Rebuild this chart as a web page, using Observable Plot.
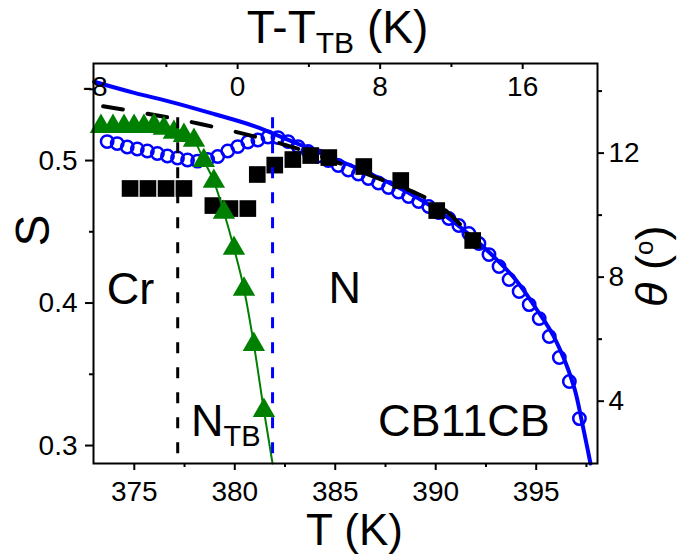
<!DOCTYPE html>
<html>
<head>
<meta charset="utf-8">
<script src="https://cdn.jsdelivr.net/npm/d3@7"></script>
<script src="https://cdn.jsdelivr.net/npm/@observablehq/plot@0.6"></script>
<style>
  html, body { margin: 0; padding: 0; background: #fff; }
  #chart svg { display: block; }
</style>
</head>
<body>
<div id="chart"></div>
<script>
// Orientational order parameter S from birefringence (open circles)
const circleT = [373.65, 374.15, 374.65, 375.15, 375.65, 376.15, 376.65, 377.15, 377.65, 378.15,
  378.65, 379.15, 379.65, 380.15, 380.65, 381.15, 381.65, 382.15, 382.65, 383.15,
  383.65, 384.15, 384.65, 385.15, 385.65, 386.15, 386.65, 387.15, 387.65, 388.15,
  388.65, 389.15, 389.65, 390.15, 390.65, 391.15, 391.65, 392.15, 392.65, 393.15,
  393.65, 394.15, 394.65, 395.15, 395.65, 396.15, 396.65, 397.15];
const circleS = [0.5133, 0.5119, 0.5095, 0.5081, 0.5067, 0.5049, 0.5032, 0.5018, 0.5004, 0.4996,
  0.5007, 0.5028, 0.5067, 0.5098, 0.5130, 0.5144, 0.5165, 0.5161, 0.5133, 0.5098,
  0.5063, 0.5032, 0.5000, 0.4965, 0.4933, 0.4905, 0.4874, 0.4842, 0.4811, 0.4779,
  0.4747, 0.4712, 0.4677, 0.4635, 0.4593, 0.4544, 0.4488, 0.4418, 0.4340, 0.4256,
  0.4165, 0.4081, 0.3989, 0.3891, 0.3765, 0.3618, 0.3449, 0.3189];

// S from X-ray diffraction (filled squares)
const squareT = [374.79, 375.68, 376.58, 377.47, 378.91, 379.76, 380.65, 381.12,
  381.99, 382.89, 383.78, 384.68, 386.42, 388.26, 390.05, 391.84];
const squareS = [0.4804, 0.4804, 0.4804, 0.4804, 0.4684, 0.4663, 0.4663, 0.4902,
  0.4968, 0.5007, 0.5035, 0.5021, 0.4958, 0.4860, 0.4649, 0.4439];

// Heliconical tilt angle theta in degrees (triangles, right axis)
const triangleT = [373.34, 373.94, 374.49, 374.99, 375.48, 375.98, 376.47, 376.97, 377.47,
  377.97, 378.46, 378.96, 379.46, 379.96, 380.46, 380.95, 381.45];
const triangleTheta = [12.86, 12.86, 12.86, 12.86, 12.86, 12.89, 12.80, 12.67, 12.57,
  12.41, 11.76, 11.09, 10.09, 8.93, 7.61, 5.83, 3.70];

// Fitted curves
const fitST = [373.0, 375.0, 377.0, 379.0, 381.0, 383.0, 385.0, 387.0, 389.0, 390.5,
  392.0, 393.0, 394.0, 395.0, 396.0, 396.6, 397.0, 397.3, 397.55, 397.7];
const fitS = [0.5553, 0.5475, 0.5405, 0.5325, 0.5240, 0.5125, 0.5010, 0.4890, 0.4745, 0.4610,
  0.4440, 0.4310, 0.4160, 0.3960, 0.3730, 0.3530, 0.3350, 0.3150, 0.2980, 0.2874];
const fitDashT = [373.45, 378.41, 382.79, 385.12, 387.01, 388.85, 390.24, 391.13, 391.83];
const fitDashS = [0.5381, 0.5253, 0.5098, 0.4986, 0.4881, 0.4782, 0.4677, 0.4565, 0.4453];
const fitThetaT = [377.47, 377.97, 378.46, 378.96, 379.46, 379.96, 380.46, 380.95, 381.45, 381.88];
const fitTheta = [12.57, 12.41, 11.76, 11.09, 10.09, 8.93, 7.61, 5.83, 3.70, 1.99];

// Phase transition temperatures: Cr–NTB (black) and NTB–N (blue)
const transitionT = [377.16, 381.88];
const transitionColor = ["black", "#0000ff"];
const transitionTopS = 0.530;

// Axis ticks
const tTicks = [375, 380, 385, 390, 395];
const tMinor = [377.5, 382.5, 387.5, 392.5, 397.5];
const sTicks = [0.3, 0.4, 0.5];
const sMinor = [0.35, 0.45, 0.55];
const thetaTicks = [4, 8, 12];
const thetaMinor = [6, 10, 14];
const relTicks = [-8, 0, 8, 16];
const relMinor = [-4, 4, 12];

// Scale extents; theta and T-T_TB are secondary axes laid over S and T
const tDomain = [372.97, 398.05];
const sDomain = [0.2874, 0.5681];
const thetaDomain = [1.99, 14.89];
const relDomain = [-8.09, 20.2];

const lin = (a, b) => v => b[0] + (v - a[0]) / (a[1] - a[0]) * (b[1] - b[0]);
const thetaToS = lin(thetaDomain, sDomain);
const sToTheta = lin(sDomain, thetaDomain);
const relToT = lin(relDomain, tDomain);

const circles = circleT.map((T, i) => ({T, S: circleS[i]}));
const squares = squareT.map((T, i) => ({T, S: squareS[i]}));
const triangles = triangleT.map((T, i) => ({T, theta: triangleTheta[i]}));
const fitLine = fitST.map((T, i) => ({T, S: fitS[i]}));
const fitDash = fitDashT.map((T, i) => ({T, S: fitDashS[i]}));
const fitThetaLine = fitThetaT.map((T, i) => ({T, theta: fitTheta[i]}));
const transitions = transitionT.map((T, i) => ({T, color: transitionColor[i]}));

const BLUE = "#0000ff";
const GREEN = "#008000";
const big = 45;

// In-plot phase labels (placed in data units)
const centeredNotes = [
  {text: "Cr", T: 374.81, S: 0.4095},
  {text: "N", T: 385.47, S: 0.4102},
  {text: "CB11CB", T: 391.40, S: 0.3165}
];
const startNotes = [
  {text: "NTB", T: 377.82, S: 0.3168}
];

const chart = Plot.plot({
  width: 679,
  height: 556,
  marginLeft: 93,
  marginRight: 82,
  marginTop: 63,
  marginBottom: 93,
  x: {domain: tDomain},
  y: {domain: sDomain},
  style: {fontFamily: "'Liberation Sans', Arial, sans-serif", fontSize: "28px", color: "black", background: "white", overflow: "visible"},
  marks: [
    // fitted S curve and birefringence points
    Plot.line(fitLine, {x: "T", y: "S", stroke: BLUE, strokeWidth: 4, curve: "monotone-x"}),
    Plot.dot(circles, {x: "T", y: "S", r: 6.2, stroke: BLUE, strokeWidth: 2.5, fill: "none"}),
    // X-ray fit and points
    Plot.line(fitDash, {x: "T", y: "S", stroke: "black", strokeWidth: 4, strokeDasharray: "20,25", curve: "monotone-x"}),
    Plot.dot(squares, {x: "T", y: "S", symbol: "square", r: 9.4, fill: "black"}),
    // tilt angle
    Plot.line(fitThetaLine, {x: "T", y: d => thetaToS(d.theta), stroke: GREEN, strokeWidth: 2, curve: "monotone-x"}),
    Plot.dot(triangles, {x: "T", y: d => thetaToS(d.theta), symbol: "triangle", r: 8.3, fill: GREEN}),
    // transition markers
    Plot.ruleX(transitions, {x: "T", y1: transitionTopS, y2: sDomain[0], stroke: "color", strokeWidth: 3, strokeDasharray: "11,14"}),

    // frame and axes
    Plot.frame({strokeWidth: 2}),
    Plot.axisX(tTicks, {anchor: "bottom", tickSize: 7, tickPadding: 11, strokeWidth: 2, label: null}),
    Plot.axisX(tMinor, {anchor: "bottom", tickSize: 4, strokeWidth: 2, tickFormat: () => "", label: null}),
    Plot.axisY(sTicks, {anchor: "left", tickSize: 8, tickPadding: 8, strokeWidth: 2, tickFormat: d3.format(".1f"), label: null}),
    Plot.axisY(sMinor, {anchor: "left", tickSize: 4, strokeWidth: 2, tickFormat: () => "", label: null}),
    Plot.axisY(thetaTicks.map(thetaToS), {anchor: "right", tickSize: 6, tickPadding: 5, strokeWidth: 2, tickFormat: d => String(Math.round(sToTheta(d))), label: null}),
    Plot.axisY(thetaMinor.map(thetaToS), {anchor: "right", tickSize: 4, strokeWidth: 2, tickFormat: () => "", label: null}),
    // top axis: inward ticks, labels inside the frame
    Plot.ruleX(relTicks.slice(1), {x: relToT, insetBottom: 394, strokeWidth: 2}),
    Plot.ruleX(relMinor, {x: relToT, insetBottom: 396, strokeWidth: 2}),
    Plot.text(relTicks, {x: relToT, text: d => String(d), frameAnchor: "top", lineAnchor: "top", dy: 13}),

    // axis titles
    Plot.text(["T (K)"], {frameAnchor: "bottom", text: d => d, dx: 9, dy: 67, fontSize: 44, lineAnchor: "middle"}),
    Plot.text(["T-TTB (K)"], {frameAnchor: "top", text: d => d, dx: -8, dy: -35, fontSize: 46, lineAnchor: "middle"}),
    Plot.text(["S"], {frameAnchor: "left", text: d => d, rotate: -90, dx: -60, dy: -17, fontSize: 48, lineAnchor: "middle"}),
    Plot.text(["θ (o)"], {frameAnchor: "right", text: d => d, rotate: -90, dx: 55, dy: -38, fontSize: big, lineAnchor: "middle"}),

    // phase labels
    Plot.text(centeredNotes, {x: "T", y: "S", text: "text", textAnchor: "middle", fontSize: big, lineAnchor: "middle"}),
    Plot.text(startNotes, {x: "T", y: "S", text: "text", textAnchor: "start", fontSize: big, lineAnchor: "middle"})
  ]
});

// Subscripts, italics and the degree mark inside single text elements
function richText(svg, plain, parts) {
  const node = Array.from(svg.querySelectorAll("text")).find(t => t.textContent === plain);
  if (!node) return;
  node.textContent = "";
  let shift = 0;
  for (const p of parts) {
    const s = document.createElementNS("http://www.w3.org/2000/svg", "tspan");
    s.textContent = p.text;
    if (p.size) s.setAttribute("font-size", p.size);
    if (p.italic) s.setAttribute("font-style", "italic");
    const want = p.dy || 0;
    if (want !== shift) s.setAttribute("dy", want - shift);
    shift = want;
    node.appendChild(s);
  }
}
richText(chart, "T-TTB (K)", [{text: "T-T"}, {text: "TB", size: 30, dy: 10}, {text: " (K)"}]);
richText(chart, "NTB", [{text: "N"}, {text: "TB", size: 29, dy: 10}]);
richText(chart, "θ (o)", [{text: "θ", italic: true}, {text: " ("}, {text: "o", size: 26, dy: -14}, {text: ")"}]);

document.getElementById("chart").appendChild(chart);
</script>
</body>
</html>
